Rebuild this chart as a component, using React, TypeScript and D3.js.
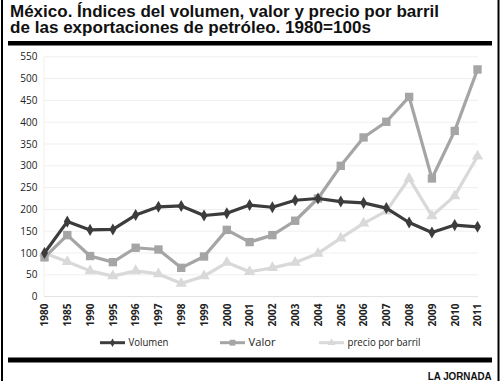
import React from "react";
import * as d3 from "d3";

const years = ["1980","1985","1990","1995","1996","1997","1998","1999","2000","2001","2002","2003","2004","2005","2006","2007","2008","2009","2010","2011"];
const volumen = [100,172,153,154,187,206,208,186,191,210,205,221,225,218,215,203,170,147,164,160];
const valor = [90,141,93,79,112,108,66,92,153,125,141,174,225,300,365,401,458,271,380,521];
const precio = [100,80,59,47,59,52,30,47,78,57,66,78,99,134,168,196,271,185,231,322];
const yTicks = [0,50,100,150,200,250,300,350,400,450,500,550];
const seriesNames = ["Volumen","Valor","precio por barril"];

const W = 500, H = 381;

export default function App() {
  const x = d3.scalePoint<string>().domain(years).range([44.5, 477.5]).padding(0);
  const y = d3.scaleLinear().domain([0, 550]).range([296.6, 56.8]);
  const line = (vals: number[]) =>
    d3.line<number>().x((_, i) => x(years[i])!).y(d => y(d))(vals)!;
  const colors = ["#3c3c3c", "#a5a5a5", "#d9d9d9"];
  const data = [volumen, valor, precio];
  const diamond = d3.symbol().type(d3.symbolDiamond).size(42)()!;
  const square = d3.symbol().type(d3.symbolSquare).size(70)()!;
  const tri = d3.symbol().type(d3.symbolTriangle).size(55)()!;
  const shapes = [diamond, square, tri];
  const axisFont = "'Open Sans', sans-serif";
  const legendX = [100, 220, 319];
  const legendLen = [40, 27, 73];
  const titleFont = "'Liberation Sans', Arial, sans-serif";

  return (
    <svg width={W} height={H} style={{ position: "absolute", left: 0, top: 0 }}>
      <rect x={0} y={0} width={W} height={H} fill="#ffffff" />
      <line x1={2} x2={2} y1={0} y2={H} stroke="#000" strokeWidth={2} />
      <line x1={498.5} x2={498.5} y1={0} y2={H} stroke="#000" strokeWidth={2} />
      <text x={10} y={16.7} fontFamily={titleFont} fontWeight="bold" fontSize={17} fill="#111" textLength={429} lengthAdjust="spacingAndGlyphs">
        México. Índices del volumen, valor y precio por barril
      </text>
      <text x={10} y={32.7} fontFamily={titleFont} fontWeight="bold" fontSize={17} fill="#111" textLength={361} lengthAdjust="spacingAndGlyphs">
        de las exportaciones de petróleo. 1980=100s
      </text>
      <rect x={8} y={41} width={484} height={4.5} fill="#000" />

      {yTicks.map(t => (
        <g key={t}>
          <line x1={44} x2={478} y1={y(t)} y2={y(t)} stroke={t === 0 ? "#e0e0e0" : "#efefef"} strokeWidth={1} />
          <text x={37.5} y={y(t)} dy="0.35em" textAnchor="end" fontFamily={axisFont} fontSize={10} fill="#222">{t}</text>
        </g>
      ))}
      <line x1={44} x2={44} y1={y(550)} y2={y(0)} stroke="#efefef" />

      {years.map(yr => (
        <text key={yr} transform={`translate(${x(yr)! + 3.8},303.5) rotate(-90)`} textAnchor="end" fontFamily={axisFont} fontWeight="bold" fontSize={10} fill="#222">{yr}</text>
      ))}

      {[2, 1, 0].map(si => (
        <g key={si}>
          <path d={line(data[si])} fill="none" stroke={colors[si]} strokeWidth={3.2} strokeLinejoin="round" />
          {data[si].map((v, i) => (
            <path key={i} d={shapes[si]} transform={`translate(${x(years[i])},${y(v)})`} fill={colors[si]} />
          ))}
        </g>
      ))}

      {seriesNames.map((n, i) => (
        <g key={n}>
          <line x1={legendX[i]} x2={legendX[i] + 25} y1={342.7} y2={342.7} stroke={colors[i]} strokeWidth={3} />
          <path d={shapes[i]} transform={`translate(${legendX[i] + 12.5},342.7) scale(0.7)`} fill={colors[i]} />
          <text x={legendX[i] + 28.5} y={342.7} dy="0.35em" fontFamily={axisFont} fontSize={10.5} fill="#222" textLength={legendLen[i]} lengthAdjust="spacingAndGlyphs">{n}</text>
        </g>
      ))}

      <rect x={8} y={357.5} width={484} height={5} fill="#000" />
      <text x={427.7} y={379.5} fontFamily={titleFont} fontWeight="bold" fontSize={11} fill="#111" textLength={64} lengthAdjust="spacingAndGlyphs">LA JORNADA</text>
    </svg>
  );
}
